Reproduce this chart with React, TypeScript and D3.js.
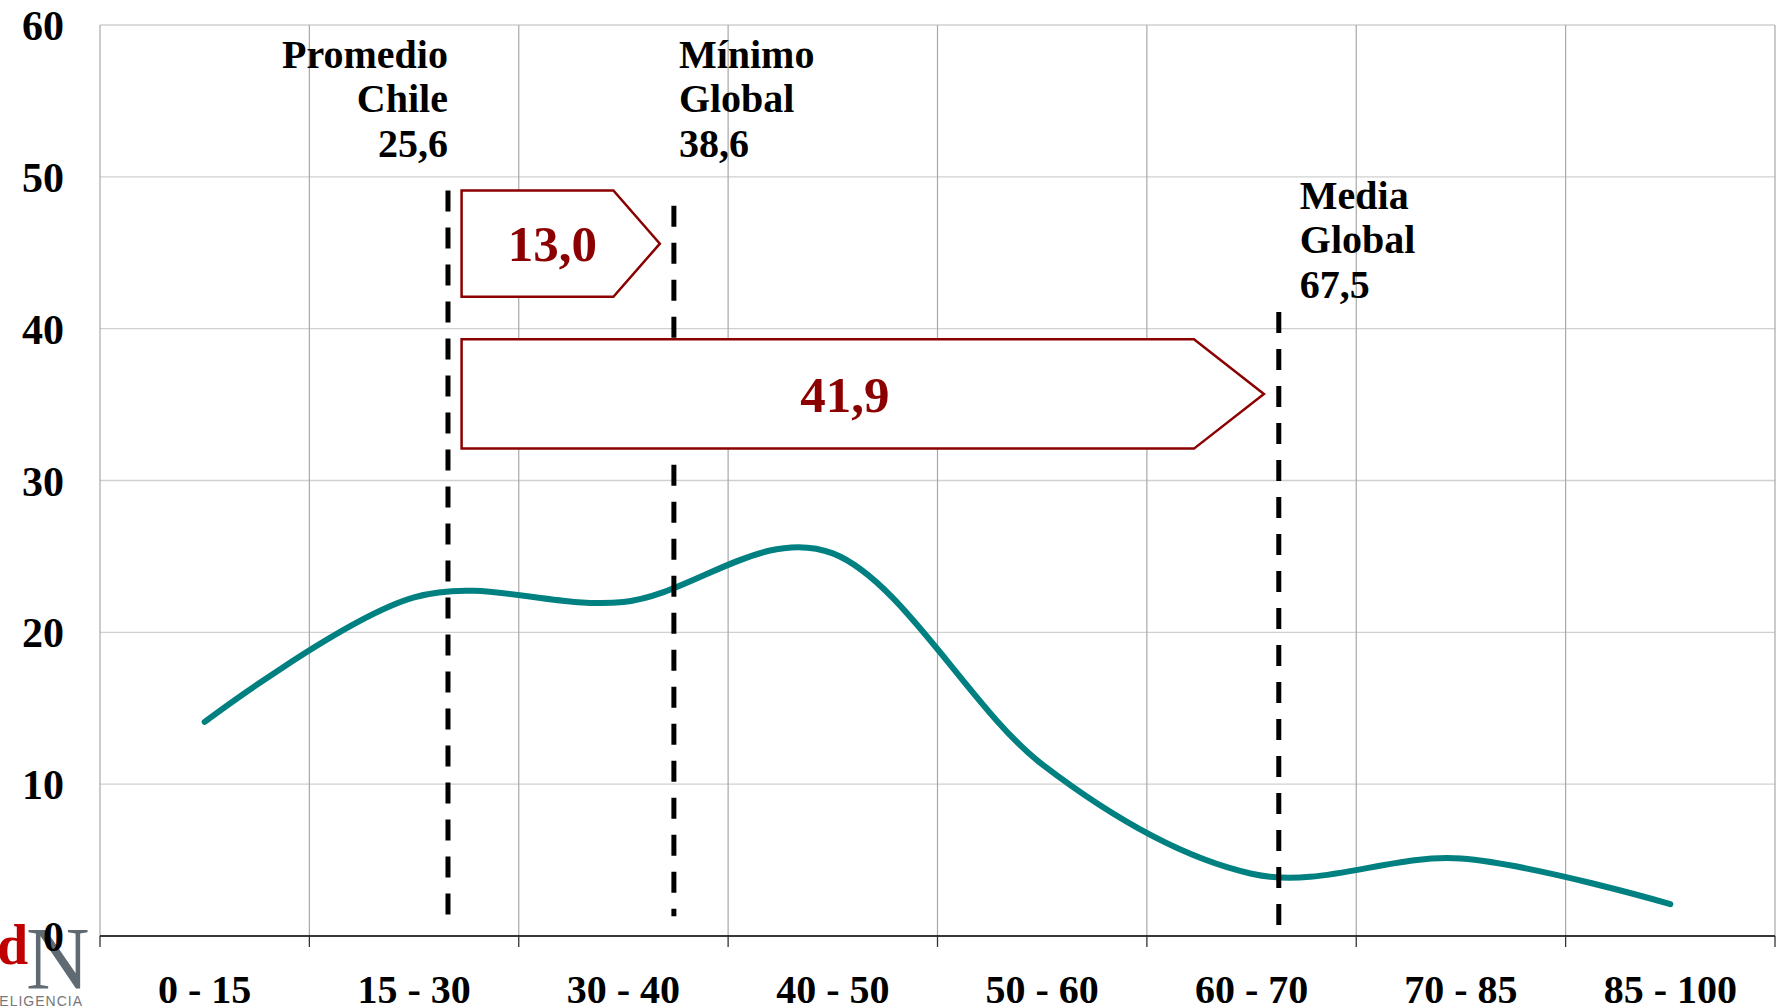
import React from "react";
import * as d3 from "d3";

const categories = ["0 - 15", "15 - 30", "30 - 40", "40 - 50", "50 - 60", "60 - 70", "70 - 85", "85 - 100"];
const values = [14.1, 22.3, 22.0, 25.2, 11.3, 4.1, 5.1, 2.1];
const yTicks = [0, 10, 20, 30, 40, 50, 60];

// reference lines: position in category-band units, top/bottom in value units
const refNames = [["Promedio", "Chile", "25,6"], ["Mínimo", "Global", "38,6"], ["Media", "Global", "67,5"]];
const refPos = [1.662, 2.741, 5.630];
const refTop = [49.1, 48.1, 41.1];
const refBottom = [1.0, 1.3, 0.4];
const refLabelAnchor = ["end", "start", "start"];
const refLabelTop = [57.2, 57.2, 47.9];

// gap arrows (band units / value units)
const arrowLabels = ["13,0", "41,9"];
const arrowStart = [1.727, 1.727];
const arrowBodyEnd = [2.452, 5.225];
const arrowTip = [2.674, 5.559];
const arrowTop = [49.1, 39.3];
const arrowBottom = [42.1, 32.1];

const W = 1778;
const H = 1008;
const left = 100, right = 1775, top = 25, bottom = 936;
const FONT = "'Liberation Serif', 'Times New Roman', serif";

export default function App() {
  const x = d3.scaleLinear().domain([0, categories.length]).range([left, right]);
  const y = d3.scaleLinear().domain([0, 60]).range([bottom, top]);
  const line = d3
    .line<number>()
    .x((_, i) => x(i + 0.5))
    .y((d) => y(d))
    .curve(d3.curveCardinal.tension(0));
  const gridX = d3.range(categories.length + 1);
  const lh = 44.5;

  return (
    <svg width={W} height={H} style={{ position: "absolute", left: 0, top: 0, background: "#fff" }} fontFamily={FONT}>
      {/* horizontal grid */}
      {yTicks.map((t) => (
        <line key={"h" + t} x1={left} x2={right} y1={y(t)} y2={y(t)} stroke="#d0d0d0" strokeWidth={1.3} />
      ))}
      {/* vertical grid */}
      {gridX.map((g) => (
        <line key={"v" + g} x1={x(g)} x2={x(g)} y1={top} y2={bottom} stroke="#a8a8a8" strokeWidth={1.2} />
      ))}
      {/* x axis */}
      <line x1={left} x2={right} y1={bottom} y2={bottom} stroke="#000" strokeWidth={1.5} />
      {gridX.map((g) => (
        <line key={"t" + g} x1={x(g)} x2={x(g)} y1={bottom} y2={bottom + 11} stroke="#333" strokeWidth={1.3} />
      ))}

      {/* logo */}
      <g>
        <text x={-3} y={964} fontSize={56} fontWeight="bold" fill="#c00000" fontFamily={FONT}>d</text>
        <text x={26} y={988} fontSize={88} fill="#5f6a73" fontFamily={FONT}>N</text>
        <text x={83} y={1006} fontSize={14} letterSpacing={1} fill="#777" textAnchor="end" fontFamily="'Liberation Sans', sans-serif">INTELIGENCIA</text>
      </g>

      {/* y labels */}
      {yTicks.map((t) => (
        <text key={"yl" + t} x={64} y={y(t)} dy="0.36em" textAnchor="end" fontSize={42} fontWeight="bold" fill="#000">
          {t}
        </text>
      ))}
      {/* x labels */}
      {categories.map((c, i) => (
        <text key={c} x={x(i + 0.5)} y={1003} textAnchor="middle" fontSize={40} fontWeight="bold" fill="#000">
          {c}
        </text>
      ))}

      {/* data line */}
      <path d={line(values) || ""} fill="none" stroke="#008080" strokeWidth={6} strokeLinecap="round" />

      {/* reference dashed lines */}
      {refPos.map((p, i) => (
        <line key={"r" + i} x1={x(p)} x2={x(p)} y1={y(refTop[i])} y2={y(refBottom[i])} stroke="#000" strokeWidth={5} strokeDasharray="21 16" />
      ))}
      {refNames.map((lines, i) => {
        const anchor = refLabelAnchor[i];
        const lx = anchor === "end" ? x(refPos[i]) : i === 1 ? x(refPos[i]) + 5 : x(refPos[i]) + 21;
        return (
          <text key={"rl" + i} textAnchor={anchor} fontSize={40} fontWeight="bold" fill="#000">
            {lines.map((s, j) => (
              <tspan key={j} x={lx} y={y(refLabelTop[i]) + j * lh}>
                {s}
              </tspan>
            ))}
          </text>
        );
      })}

      {/* arrows */}
      {arrowLabels.map((lab, i) => {
        const x0 = x(arrowStart[i]);
        const x1 = x(arrowBodyEnd[i]);
        const xt = x(arrowTip[i]);
        const y0 = y(arrowTop[i]);
        const y1 = y(arrowBottom[i]);
        const ym = (y0 + y1) / 2;
        const pts = `${x0},${y0} ${x1},${y0} ${xt},${ym} ${x1},${y1} ${x0},${y1}`;
        const tx = i === 0 ? (x0 + x1) / 2 + 15 : (x0 + xt) / 2 - 18;
        return (
          <g key={"a" + i}>
            <polygon points={pts} fill="#fff" stroke="#8b0000" strokeWidth={2.5} />
            <text x={tx} y={ym} dy="0.35em" textAnchor="middle" fontSize={51} fontWeight="bold" fill="#8b0000">
              {lab}
            </text>
          </g>
        );
      })}
    </svg>
  );
}
